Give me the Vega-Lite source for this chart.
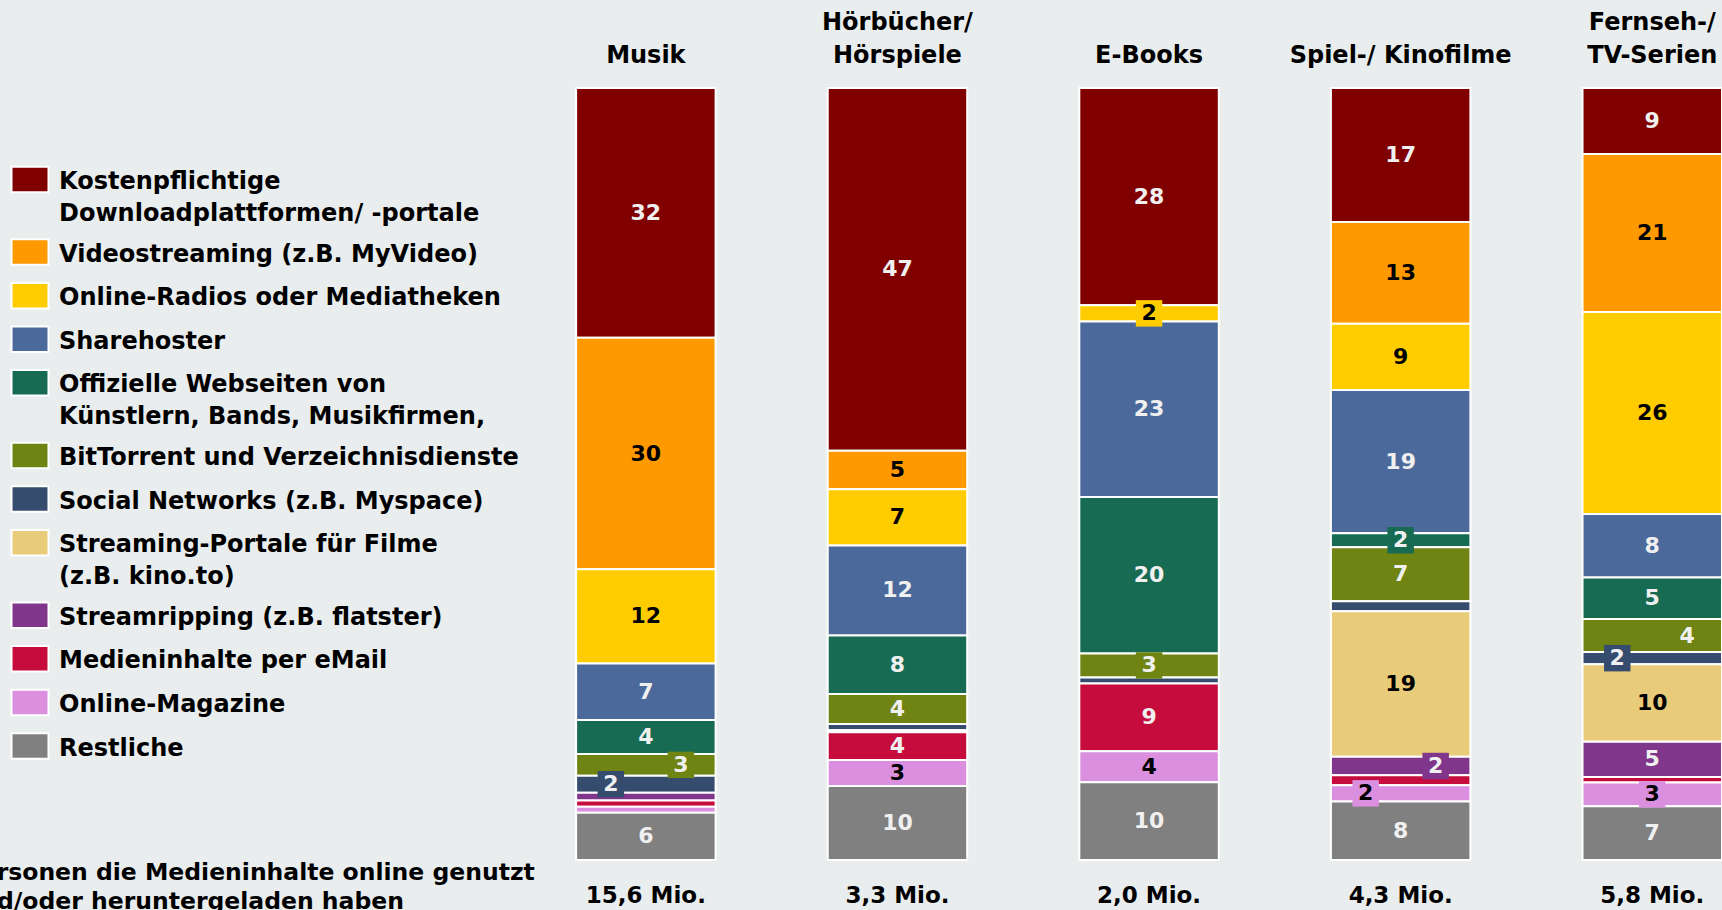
{
  "$schema": "https://vega.github.io/schema/vega-lite/v6.json",
  "width": 1203,
  "height": 772,
  "autosize": {"type": "none"},
  "padding": {"left": 519, "top": 88, "right": 0, "bottom": 50},
  "background": "#e9edee",
  "config": {
    "view": {"stroke": null},
    "style": {"guide-label": {"lineHeight": 32}}
  },
  "resolve": {"axis": {"x": "independent"}},
  "layer": [
    {
      "data": {"values": [
        {"medium": "Musik", "source": "Kostenpflichtige Downloadplattformen/ -portale", "value": 32.3},
        {"medium": "Musik", "source": "Videostreaming (z.B. MyVideo)", "value": 29.9},
        {"medium": "Musik", "source": "Online-Radios oder Mediatheken", "value": 12.2},
        {"medium": "Musik", "source": "Sharehoster", "value": 7.3},
        {"medium": "Musik", "source": "Offizielle Webseiten von Künstlern, Bands, Musikfirmen,", "value": 4.4},
        {"medium": "Musik", "source": "BitTorrent und Verzeichnisdienste", "value": 2.8},
        {"medium": "Musik", "source": "Social Networks (z.B. Myspace)", "value": 2.2},
        {"medium": "Musik", "source": "Streamripping (z.B. flatster)", "value": 1.0},
        {"medium": "Musik", "source": "Medieninhalte per eMail", "value": 0.8},
        {"medium": "Musik", "source": "Online-Magazine", "value": 0.8},
        {"medium": "Musik", "source": "Restliche", "value": 6.1},
        {"medium": "Hörbücher/ Hörspiele", "source": "Kostenpflichtige Downloadplattformen/ -portale", "value": 47.1},
        {"medium": "Hörbücher/ Hörspiele", "source": "Videostreaming (z.B. MyVideo)", "value": 5.0},
        {"medium": "Hörbücher/ Hörspiele", "source": "Online-Radios oder Mediatheken", "value": 7.3},
        {"medium": "Hörbücher/ Hörspiele", "source": "Sharehoster", "value": 11.7},
        {"medium": "Hörbücher/ Hörspiele", "source": "Offizielle Webseiten von Künstlern, Bands, Musikfirmen,", "value": 7.6},
        {"medium": "Hörbücher/ Hörspiele", "source": "BitTorrent und Verzeichnisdienste", "value": 3.9},
        {"medium": "Hörbücher/ Hörspiele", "source": "Social Networks (z.B. Myspace)", "value": 0.8},
        {"medium": "Hörbücher/ Hörspiele", "source": "Streamripping (z.B. flatster)", "value": 0.25},
        {"medium": "Hörbücher/ Hörspiele", "source": "Medieninhalte per eMail", "value": 3.6},
        {"medium": "Hörbücher/ Hörspiele", "source": "Online-Magazine", "value": 3.4},
        {"medium": "Hörbücher/ Hörspiele", "source": "Restliche", "value": 9.6},
        {"medium": "E-Books", "source": "Kostenpflichtige Downloadplattformen/ -portale", "value": 28.2},
        {"medium": "E-Books", "source": "Online-Radios oder Mediatheken", "value": 2.1},
        {"medium": "E-Books", "source": "Sharehoster", "value": 22.8},
        {"medium": "E-Books", "source": "Offizielle Webseiten von Künstlern, Bands, Musikfirmen,", "value": 20.3},
        {"medium": "E-Books", "source": "BitTorrent und Verzeichnisdienste", "value": 3.1},
        {"medium": "E-Books", "source": "Social Networks (z.B. Myspace)", "value": 0.8},
        {"medium": "E-Books", "source": "Medieninhalte per eMail", "value": 8.8},
        {"medium": "E-Books", "source": "Online-Magazine", "value": 4.0},
        {"medium": "E-Books", "source": "Restliche", "value": 10.1},
        {"medium": "Spiel-/ Kinofilme", "source": "Kostenpflichtige Downloadplattformen/ -portale", "value": 17.4},
        {"medium": "Spiel-/ Kinofilme", "source": "Videostreaming (z.B. MyVideo)", "value": 13.2},
        {"medium": "Spiel-/ Kinofilme", "source": "Online-Radios oder Mediatheken", "value": 8.6},
        {"medium": "Spiel-/ Kinofilme", "source": "Sharehoster", "value": 18.6},
        {"medium": "Spiel-/ Kinofilme", "source": "Offizielle Webseiten von Künstlern, Bands, Musikfirmen,", "value": 1.8},
        {"medium": "Spiel-/ Kinofilme", "source": "BitTorrent und Verzeichnisdienste", "value": 7.0},
        {"medium": "Spiel-/ Kinofilme", "source": "Social Networks (z.B. Myspace)", "value": 1.3},
        {"medium": "Spiel-/ Kinofilme", "source": "Streaming-Portale für Filme (z.B. kino.to)", "value": 18.9},
        {"medium": "Spiel-/ Kinofilme", "source": "Streamripping (z.B. flatster)", "value": 2.4},
        {"medium": "Spiel-/ Kinofilme", "source": "Medieninhalte per eMail", "value": 1.3},
        {"medium": "Spiel-/ Kinofilme", "source": "Online-Magazine", "value": 2.1},
        {"medium": "Spiel-/ Kinofilme", "source": "Restliche", "value": 7.6},
        {"medium": "Fernseh-/ TV-Serien", "source": "Kostenpflichtige Downloadplattformen/ -portale", "value": 8.6},
        {"medium": "Fernseh-/ TV-Serien", "source": "Videostreaming (z.B. MyVideo)", "value": 20.6},
        {"medium": "Fernseh-/ TV-Serien", "source": "Online-Radios oder Mediatheken", "value": 26.3},
        {"medium": "Fernseh-/ TV-Serien", "source": "Sharehoster", "value": 8.3},
        {"medium": "Fernseh-/ TV-Serien", "source": "Offizielle Webseiten von Künstlern, Bands, Musikfirmen,", "value": 5.4},
        {"medium": "Fernseh-/ TV-Serien", "source": "BitTorrent und Verzeichnisdienste", "value": 4.3},
        {"medium": "Fernseh-/ TV-Serien", "source": "Social Networks (z.B. Myspace)", "value": 1.6},
        {"medium": "Fernseh-/ TV-Serien", "source": "Streaming-Portale für Filme (z.B. kino.to)", "value": 10.1},
        {"medium": "Fernseh-/ TV-Serien", "source": "Streamripping (z.B. flatster)", "value": 4.6},
        {"medium": "Fernseh-/ TV-Serien", "source": "Medieninhalte per eMail", "value": 0.7},
        {"medium": "Fernseh-/ TV-Serien", "source": "Online-Magazine", "value": 3.1},
        {"medium": "Fernseh-/ TV-Serien", "source": "Restliche", "value": 7.0}
      ]},
      "transform": [
        {"calculate": "indexof(['Kostenpflichtige Downloadplattformen/ -portale','Videostreaming (z.B. MyVideo)','Online-Radios oder Mediatheken','Sharehoster','Offizielle Webseiten von Künstlern, Bands, Musikfirmen,','BitTorrent und Verzeichnisdienste','Social Networks (z.B. Myspace)','Streaming-Portale für Filme (z.B. kino.to)','Streamripping (z.B. flatster)','Medieninhalte per eMail','Online-Magazine','Restliche'], datum.source)", "as": "rank"},
        {"calculate": "datum.medium + '|' + datum.source", "as": "key"},
        {"calculate": "indexof(['Musik|Social Networks (z.B. Myspace)','Spiel-/ Kinofilme|Online-Magazine','Fernseh-/ TV-Serien|Social Networks (z.B. Myspace)'], datum.key) >= 0 ? 'left' : indexof(['Musik|BitTorrent und Verzeichnisdienste','Spiel-/ Kinofilme|Streamripping (z.B. flatster)','Fernseh-/ TV-Serien|BitTorrent und Verzeichnisdienste'], datum.key) >= 0 ? 'right' : 'center'", "as": "side"},
        {"stack": "value", "groupby": ["medium"], "sort": [{"field": "rank", "order": "descending"}], "offset": "normalize", "as": ["y0", "y1"]},
        {"calculate": "(datum.y0 + datum.y1) / 2", "as": "mid"}
      ],
      "layer": [
        {
          "mark": {"type": "bar", "stroke": "white", "strokeWidth": 2},
          "encoding": {
            "x": {
              "field": "medium", "type": "nominal", "sort": null,
              "scale": {"domain": ["Musik", "Hörbücher/ Hörspiele", "E-Books", "Spiel-/ Kinofilme", "Fernseh-/ TV-Serien"], "paddingInner": 0.4456, "paddingOuter": 0.1135, "align": 1},
              "axis": {
                "orient": "top", "title": null, "domain": false, "ticks": false, "labelAngle": 0,
                "labelFont": "DejaVu Sans", "labelFontWeight": "bold", "labelFontSize": 24, "labelColor": "black",
                "labelPadding": 54, "labelLineHeight": 33, "labelLimit": 500, "labelBaseline": "bottom",
                "labelExpr": "datum.value == 'Hörbücher/ Hörspiele' ? ['Hörbücher/', 'Hörspiele'] : datum.value == 'Fernseh-/ TV-Serien' ? ['Fernseh-/', 'TV-Serien'] : ['', datum.value]"
              }
            },
            "y": {"field": "y0", "type": "quantitative", "scale": {"domain": [0, 1]}, "axis": null},
            "y2": {"field": "y1"},
            "color": {
              "field": "source", "type": "nominal",
              "scale": {
                "domain": ["Kostenpflichtige Downloadplattformen/ -portale", "Videostreaming (z.B. MyVideo)", "Online-Radios oder Mediatheken", "Sharehoster", "Offizielle Webseiten von Künstlern, Bands, Musikfirmen,", "BitTorrent und Verzeichnisdienste", "Social Networks (z.B. Myspace)", "Streaming-Portale für Filme (z.B. kino.to)", "Streamripping (z.B. flatster)", "Medieninhalte per eMail", "Online-Magazine", "Restliche"],
                "range": ["#800000", "#ff9900", "#ffcc00", "#4b6a9b", "#176b52", "#6f8412", "#364c6e", "#e8cc7a", "#80368a", "#c50c3c", "#da8fdf", "#808080"]
              },
              "legend": {
                "orient": "none", "legendX": -503, "legendY": 87, "title": null,
                "symbolType": "M-1.45,-1.75H1.45V0.25H-1.45Z", "symbolSize": 650,
                "symbolStrokeColor": "white", "symbolStrokeWidth": 2, "symbolOpacity": 1,
                "labelFont": "DejaVu Sans", "labelFontWeight": "bold", "labelFontSize": 24, "labelColor": "black",
                "labelLimit": 800, "labelBaseline": "alphabetic", "labelOffset": 15, "rowPadding": 8.6,
                "labelExpr": "datum.label == 'Kostenpflichtige Downloadplattformen/ -portale' ? ['Kostenpflichtige', 'Downloadplattformen/ -portale'] : datum.label == 'Offizielle Webseiten von Künstlern, Bands, Musikfirmen,' ? ['Offizielle Webseiten von', 'Künstlern, Bands, Musikfirmen,'] : datum.label == 'Streaming-Portale für Filme (z.B. kino.to)' ? ['Streaming-Portale für Filme', '(z.B. kino.to)'] : datum.label"
              }
            }
          }
        },
        {
          "transform": [{"filter": "datum.value >= 1.5 && datum.value < 3.3 && datum.side == 'center'"}],
          "mark": {"type": "square", "size": 700, "opacity": 1, "filled": true},
          "encoding": {
            "x": {"field": "medium", "type": "nominal", "sort": null},
            "y": {"field": "mid", "type": "quantitative", "scale": {"domain": [0, 1]}},
            "color": {"field": "source", "type": "nominal"}
          }
        },
        {
          "transform": [{"filter": "datum.value >= 1.5 && datum.value < 3.3 && datum.side == 'left'"}],
          "mark": {"type": "square", "size": 700, "opacity": 1, "filled": true, "xOffset": -35},
          "encoding": {
            "x": {"field": "medium", "type": "nominal", "sort": null},
            "y": {"field": "mid", "type": "quantitative", "scale": {"domain": [0, 1]}},
            "color": {"field": "source", "type": "nominal"}
          }
        },
        {
          "transform": [{"filter": "datum.value >= 1.5 && datum.value < 3.3 && datum.side == 'right'"}],
          "mark": {"type": "square", "size": 700, "opacity": 1, "filled": true, "xOffset": 35},
          "encoding": {
            "x": {"field": "medium", "type": "nominal", "sort": null},
            "y": {"field": "mid", "type": "quantitative", "scale": {"domain": [0, 1]}},
            "color": {"field": "source", "type": "nominal"}
          }
        },
        {
          "transform": [{"filter": "datum.value >= 1.5 && datum.side == 'center'"}],
          "mark": {"type": "text", "font": "DejaVu Sans", "fontWeight": "bold", "fontSize": 22, "baseline": "middle", "align": "center"},
          "encoding": {
            "x": {"field": "medium", "type": "nominal", "sort": null},
            "y": {"field": "mid", "type": "quantitative", "scale": {"domain": [0, 1]}},
            "text": {"field": "value", "type": "quantitative", "format": ".0f"},
            "color": {"condition": {"test": "indexof(['Videostreaming (z.B. MyVideo)','Online-Radios oder Mediatheken','Streaming-Portale für Filme (z.B. kino.to)','Online-Magazine'], datum.source) >= 0", "value": "black"}, "value": "#f0f0f0"}
          }
        },
        {
          "transform": [{"filter": "datum.value >= 1.5 && datum.side == 'left'"}],
          "mark": {"type": "text", "font": "DejaVu Sans", "fontWeight": "bold", "fontSize": 22, "baseline": "middle", "align": "center", "xOffset": -35},
          "encoding": {
            "x": {"field": "medium", "type": "nominal", "sort": null},
            "y": {"field": "mid", "type": "quantitative", "scale": {"domain": [0, 1]}},
            "text": {"field": "value", "type": "quantitative", "format": ".0f"},
            "color": {"condition": {"test": "indexof(['Videostreaming (z.B. MyVideo)','Online-Radios oder Mediatheken','Streaming-Portale für Filme (z.B. kino.to)','Online-Magazine'], datum.source) >= 0", "value": "black"}, "value": "#f0f0f0"}
          }
        },
        {
          "transform": [{"filter": "datum.value >= 1.5 && datum.side == 'right'"}],
          "mark": {"type": "text", "font": "DejaVu Sans", "fontWeight": "bold", "fontSize": 22, "baseline": "middle", "align": "center", "xOffset": 35},
          "encoding": {
            "x": {"field": "medium", "type": "nominal", "sort": null},
            "y": {"field": "mid", "type": "quantitative", "scale": {"domain": [0, 1]}},
            "text": {"field": "value", "type": "quantitative", "format": ".0f"},
            "color": {"condition": {"test": "indexof(['Videostreaming (z.B. MyVideo)','Online-Radios oder Mediatheken','Streaming-Portale für Filme (z.B. kino.to)','Online-Magazine'], datum.source) >= 0", "value": "black"}, "value": "#f0f0f0"}
          }
        }
      ]
    },
    {
      "data": {"values": [
        {"medium": "Musik", "total": "15,6 Mio."},
        {"medium": "Hörbücher/ Hörspiele", "total": "3,3 Mio."},
        {"medium": "E-Books", "total": "2,0 Mio."},
        {"medium": "Spiel-/ Kinofilme", "total": "4,3 Mio."},
        {"medium": "Fernseh-/ TV-Serien", "total": "5,8 Mio."}
      ]},
      "mark": {"type": "text", "font": "DejaVu Sans", "fontWeight": "bold", "fontSize": 23, "baseline": "middle", "align": "center", "color": "black"},
      "encoding": {
        "x": {
          "field": "medium", "type": "nominal", "sort": null,
          "axis": {
            "orient": "bottom", "labels": false, "ticks": false, "domain": false,
            "title": ["Personen die Medieninhalte online genutzt", "und/oder heruntergeladen haben"],
            "titleX": -556, "titleY": 19, "titleAlign": "left", "titleBaseline": "alphabetic",
            "titleFont": "DejaVu Sans", "titleFontWeight": "bold", "titleFontSize": 23.5, "titleLineHeight": 29.5, "titleColor": "black"
          }
        },
        "y": {"datum": -0.047, "type": "quantitative", "scale": {"domain": [0, 1]}},
        "text": {"field": "total"}
      }
    }
  ]
}
